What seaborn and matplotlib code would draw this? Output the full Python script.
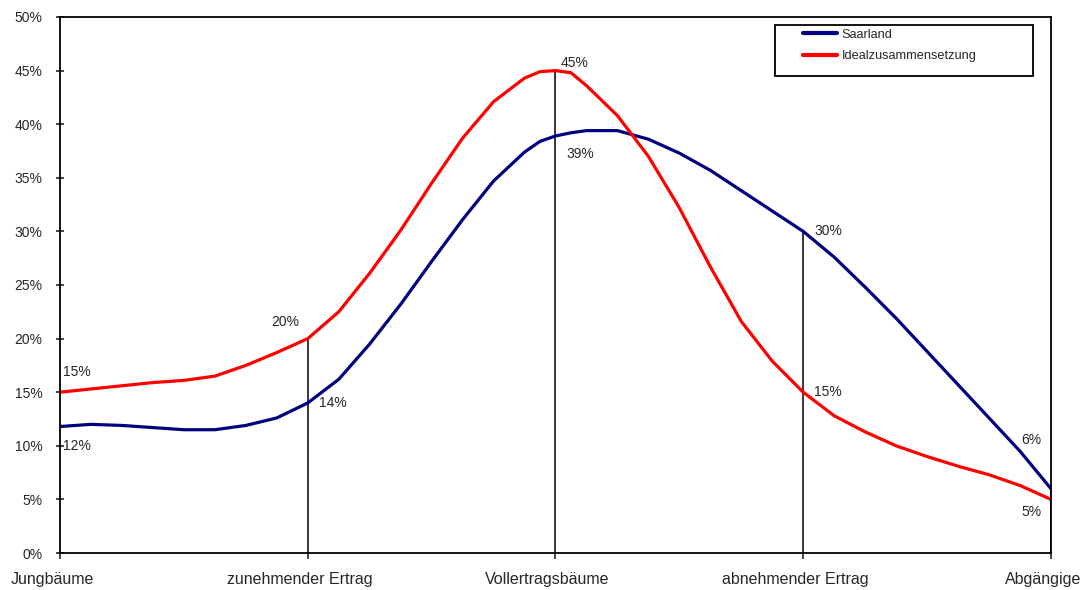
import numpy as np
import pandas as pd
import matplotlib
matplotlib.use("Agg")
import matplotlib.pyplot as plt
import matplotlib.transforms as mtrans
from matplotlib.patches import Rectangle
from matplotlib.ticker import FuncFormatter
import seaborn as sns

# Altersstufen der Obstbäume
stufen = ["Jungbäume", "zunehmender Ertrag", "Vollertragsbäume",
          "abnehmender Ertrag", "Abgängige"]

pos = [0.0, 0.125, 0.25, 0.375, 0.5, 0.625, 0.75, 0.875,
       1.0, 1.125, 1.25, 1.375, 1.5, 1.625, 1.75, 1.875, 1.9375,
       2.0, 2.0625, 2.125, 2.25, 2.375, 2.5, 2.625, 2.75, 2.875,
       3.0, 3.125, 3.25, 3.375, 3.5, 3.625, 3.75, 3.875,
       4.0]
saarland = [11.8, 12.0, 11.9, 11.7, 11.5, 11.5, 11.9, 12.6,
            14.0, 16.2, 19.5, 23.2, 27.2, 31.1, 34.7, 37.4, 38.4,
            38.9, 39.2, 39.4, 39.4, 38.6, 37.3, 35.7, 33.8, 31.9,
            30.0, 27.6, 24.8, 21.9, 18.8, 15.7, 12.6, 9.5,
            6.0]
ideal = [15.0, 15.3, 15.6, 15.9, 16.1, 16.5, 17.5, 18.7,
         20.0, 22.5, 26.1, 30.1, 34.5, 38.7, 42.1, 44.3, 44.9,
         45.0, 44.8, 43.6, 40.8, 37.0, 32.2, 26.7, 21.6, 17.9,
         15.0, 12.8, 11.3, 10.0, 9.0, 8.1, 7.3, 6.3,
         5.0]

# Beschriftete Werte an den Stufen
label_saarland = [12, 14, 39, 30, 6]
label_ideal = [15, 20, 45, 15, 5]

df = pd.DataFrame({
    "pos": pos + pos,
    "anteil": saarland + ideal,
    "reihe": ["Saarland"] * len(pos) + ["Idealzusammensetzung"] * len(pos),
})

sns.set_style("ticks")
plt.rcParams["font.family"] = ["Liberation Sans", "DejaVu Sans"]

fig = plt.figure(figsize=(10.82, 5.9), dpi=100)
ax = fig.add_axes([0.0555, 0.0627, 0.9158, 0.9085])

sns.lineplot(data=df, x="pos", y="anteil", hue="reihe",
             palette={"Saarland": "#000080", "Idealzusammensetzung": "#ff0000"},
             linewidth=2.3, ax=ax)

stufe_idx = [pos.index(float(i)) for i in range(len(stufen))]

# senkrechte Linien an den Stufen
for i in range(1, len(stufen)):
    k = stufe_idx[i]
    ax.vlines(i, 0, max(saarland[k], ideal[k]), color="black", linewidth=1.1, zorder=1)

# Wertbeschriftungen (Versatz in Pixeln)
off_ideal = [(3, 20, "left"), (-9, 17, "right"), (5, 8, "left"), (11, 0, "left"), (-30, -13, "left")]
off_saar = [(3, -19, "left"), (11, 0, "left"), (11, -18, "left"), (11, 0, "left"), (-30, 49, "left")]
for i in range(len(stufen)):
    k = stufe_idx[i]
    dx, dy, ha = off_ideal[i]
    ax.annotate(f"{label_ideal[i]}%", xy=(i, ideal[k]), xytext=(dx, dy),
                textcoords="offset pixels", ha=ha, va="center", fontsize=10)
    dx, dy, ha = off_saar[i]
    ax.annotate(f"{label_saarland[i]}%", xy=(i, saarland[k]), xytext=(dx, dy),
                textcoords="offset pixels", ha=ha, va="center", fontsize=10)

ax.set_xlim(0, 4)
ax.set_ylim(0, 50)
ax.set_xticks(range(len(stufen)))
ax.set_xticklabels(stufen)
ax.set_yticks(np.arange(0, 51, 5))
ax.yaxis.set_major_formatter(FuncFormatter(lambda v, _: f"{v:.0f}%"))
ax.set_xlabel("")
ax.set_ylabel("")

ax.tick_params(axis="y", direction="inout", length=6, width=1.2, labelsize=10, pad=9.5)
ax.tick_params(axis="x", direction="out", length=4, width=1.2, labelsize=11.5, pad=10)
shift = mtrans.ScaledTranslation(-8 / 100, 0, fig.dpi_scale_trans)
for lbl in ax.get_xticklabels():
    lbl.set_transform(lbl.get_transform() + shift)
for sp in ax.spines.values():
    sp.set_visible(True)
    sp.set_color("black")
    sp.set_linewidth(1.3)

handles, labels = ax.get_legend_handles_labels()
order = [labels.index("Saarland"), labels.index("Idealzusammensetzung")]
leg = ax.legend([handles[k] for k in order], [labels[k] for k in order],
                loc="upper left", bbox_to_anchor=(0.7497, 0.978),
                borderpad=0, borderaxespad=0, frameon=False, fontsize=9.2,
                handlelength=2.7, handletextpad=0.35, labelspacing=0.75)
for ln in leg.get_lines():
    ln.set_linewidth(3)
ax.add_patch(Rectangle((0.7215, 0.89), 0.2605, 0.095, transform=ax.transAxes,
                       fill=False, edgecolor="black", linewidth=1.3, zorder=5))

fig.savefig("out.png", dpi=100)
